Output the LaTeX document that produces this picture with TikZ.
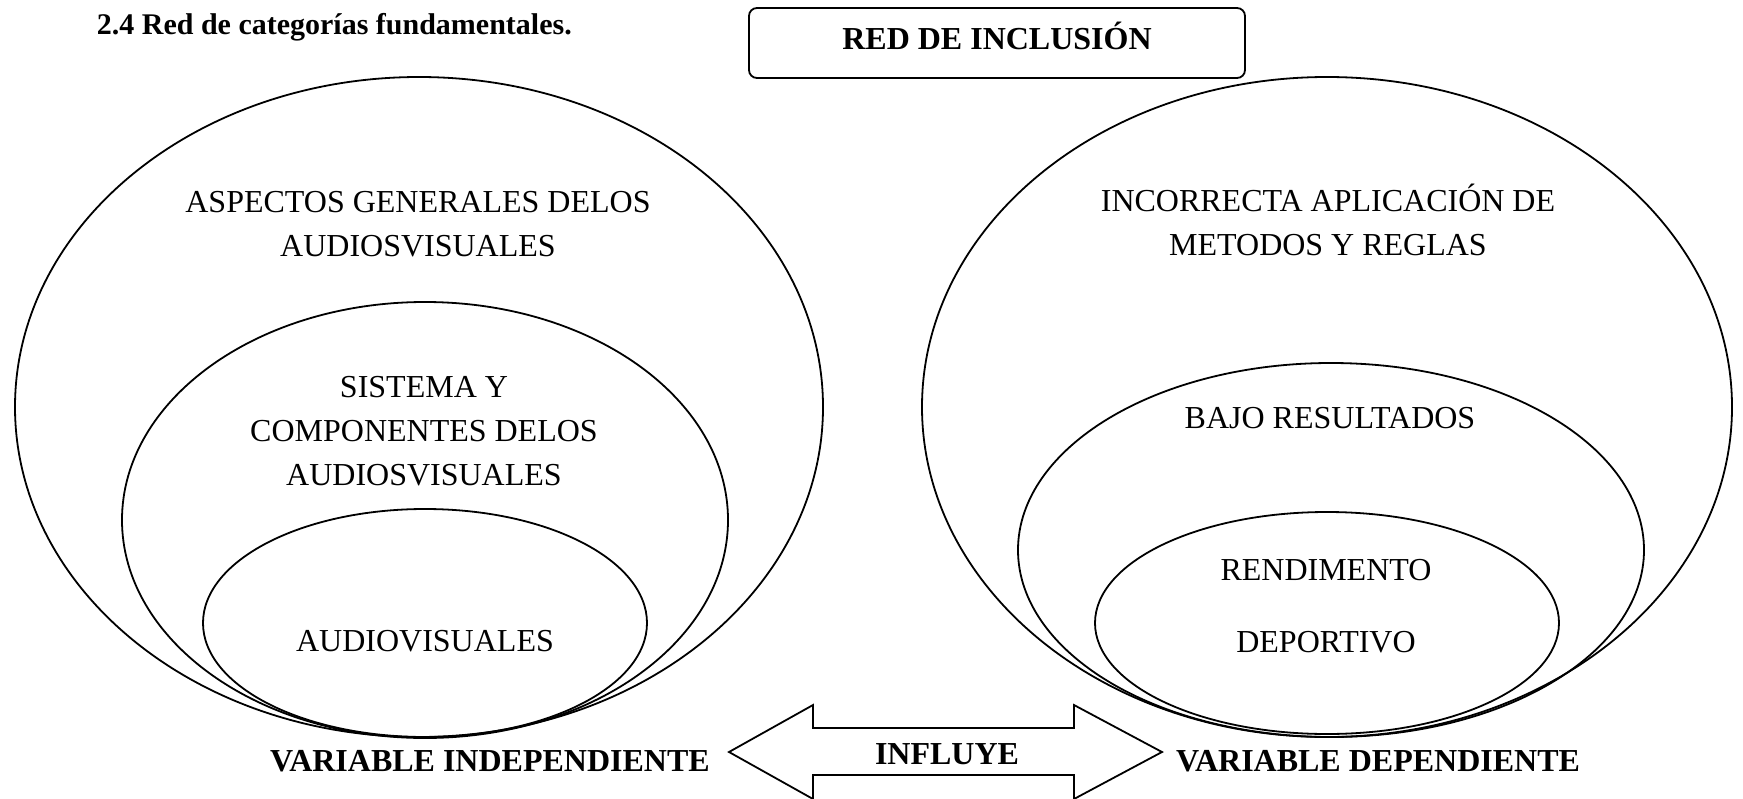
\documentclass[tikz,border=0pt]{standalone}
\usepackage{fontspec}
\setmainfont{Liberation Serif}
\usetikzlibrary{shapes.geometric}

\begin{document}
\begin{tikzpicture}[x=1pt, y=-1pt,
  ring/.style={ellipse, draw, line width=1.8pt, inner sep=0pt},
  txt/.style={align=center, inner sep=0pt, anchor=base, font=\fontsize{32}{44}\selectfont},
  btxt/.style={txt, font=\fontsize{32}{44}\selectfont\bfseries}]
\useasboundingbox (0,0) rectangle (1743,798);
\node[txt, anchor=base east, font=\fontsize{30}{36}\selectfont\bfseries] (titulo) at (572,34) {2.4 Red de categorías fundamentales.};
\node[draw, rounded corners=8pt, line width=1.8pt, minimum width=496pt, minimum height=70pt, inner sep=0pt] (redbox) at (997,43) {};
\node[btxt] (red) at (997,49) {RED DE INCLUSIÓN};
% variable independiente
\node[ring, minimum width=808pt, minimum height=660pt] (outL) at (419,407) {};
\node[ring, minimum width=606pt, minimum height=436pt] (midL) at (425,520) {};
\node[ring, minimum width=444pt, minimum height=228pt] (inL) at (425,623) {};
\node[txt] (asp) at (418,256) {ASPECTOS GENERALES DELOS\\AUDIOSVISUALES};
\node[txt] (sis) at (424,485) {SISTEMA Y\\COMPONENTES DELOS\\AUDIOSVISUALES};
\node[txt] (aud) at (425,651) {AUDIOVISUALES};
% variable dependiente
\node[ring, minimum width=810pt, minimum height=660pt] (outR) at (1327,407) {};
\node[ring, minimum width=626pt, minimum height=374pt] (midR) at (1331,550) {};
\node[ring, minimum width=464pt, minimum height=222pt] (inR) at (1327,623) {};
\node[txt] (inc) at (1328,255) {INCORRECTA APLICACIÓN DE\\METODOS Y REGLAS};
\node[txt] (baj) at (1330,428) {BAJO RESULTADOS};
\node[txt] (ren) at (1326,652) {RENDIMENTO\\[28pt]DEPORTIVO};
% flecha
\draw[line width=1.8pt] (729,752) -- (813,705) -- (813,728) -- (1074,728) -- (1074,705)
  -- (1162,752) -- (1074,799) -- (1074,775) -- (813,775) -- (813,799) -- cycle;
\node[btxt] (influye) at (947,764) {INFLUYE};
\node[btxt] (vind) at (490,771) {VARIABLE INDEPENDIENTE};
\node[btxt] (vdep) at (1378,771) {VARIABLE DEPENDIENTE};
\end{tikzpicture}
\end{document}
